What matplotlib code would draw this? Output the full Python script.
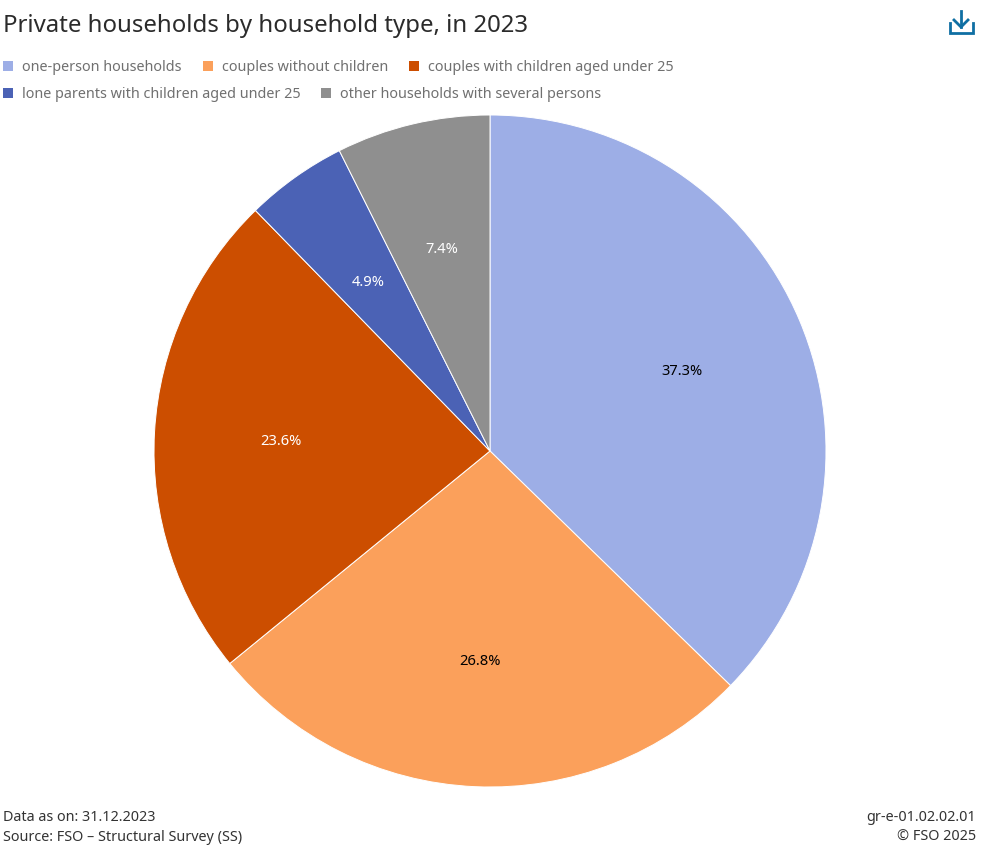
import matplotlib
matplotlib.use('Agg')
import matplotlib.pyplot as plt
from matplotlib.patches import Rectangle
from matplotlib.lines import Line2D

plt.rcParams['font.family'] = ['Noto Sans', 'DejaVu Sans']

# Data
categories = ['one-person households', 'couples without children',
              'couples with children aged under 25',
              'lone parents with children aged under 25',
              'other households with several persons']
shares = [37.3, 26.8, 23.6, 4.9, 7.4]

# Colors
colors = ['#9daee6', '#fba05b', '#cc4e00', '#4b62b5', '#8f8f8f']
label_colors = ['black', 'black', 'white', 'white', 'white']

W, H = 985, 852
fig = plt.figure(figsize=(W / 100, H / 100), dpi=100)


def fx(px):
    return px / W


def fy(py):
    return 1 - py / H


# Pie, centre (490, 451) and radius 336 px
cx, cy, r = 490, 451, 336
ax = fig.add_axes([fx(cx - r), fy(cy + r), 2 * r / W, 2 * r / H])
wedges, _, autotexts = ax.pie(shares, colors=colors, startangle=90, counterclock=False,
                              autopct='%.1f%%', pctdistance=0.622, radius=1,
                              wedgeprops={'edgecolor': 'white', 'linewidth': 0.7})
ax.set_xlim(-1, 1)
ax.set_ylim(-1, 1)
for t, c in zip(autotexts, label_colors):
    t.set_color(c)
    t.set_fontsize(10.6)
    # text sits a little lower than the matplotlib centring
    x, y = t.get_position()
    t.set_position((x - 0.5 / r, y - 2 / r))

# Title
fig.text(fx(3), fy(26), 'Private households by household type, in 2023',
         fontsize=17.25, color='#2b2b2b', va='center', ha='left')

# Legend, built by hand to keep the rows as in the original
legend_pos = [(3, 66), (203, 66), (409, 66), (3, 93), (321, 93)]
for name, color, (x, y) in zip(categories, colors, legend_pos):
    fig.add_artist(Rectangle((fx(x), fy(y + 5)), 10 / W, 10 / H, color=color,
                             transform=fig.transFigure, lw=0))
    fig.text(fx(x + 19), fy(y + 1.5), name, fontsize=10.35, color='#707070', va='center', ha='left')

# Download icon
icon = '#0f6fa3'
icon_lines = [
    ([961, 961], [11, 27]),
    ([954, 961, 968], [20, 27, 20]),
    ([950, 950, 973, 973], [23, 33, 33, 23]),
]
for xs, ys in icon_lines:
    fig.add_artist(Line2D([fx(v) for v in xs], [fy(v) for v in ys], color=icon, lw=2,
                          transform=fig.transFigure, solid_joinstyle='miter'))

# Footer
foot = '#333333'
fig.text(fx(3), fy(817.7), 'Data as on: 31.12.2023', fontsize=10.35, color=foot, va='center')
fig.text(fx(3), fy(837.7), 'Source: FSO – Structural Survey (SS)', fontsize=10.35, color=foot, va='center')
fig.text(fx(976), fy(817.7), 'gr-e-01.02.02.01', fontsize=10.35, color=foot, va='center', ha='right')
fig.text(fx(976), fy(837.7), '© FSO 2025', fontsize=10.35, color=foot, va='center', ha='right')

fig.savefig('out.png', dpi=100)
